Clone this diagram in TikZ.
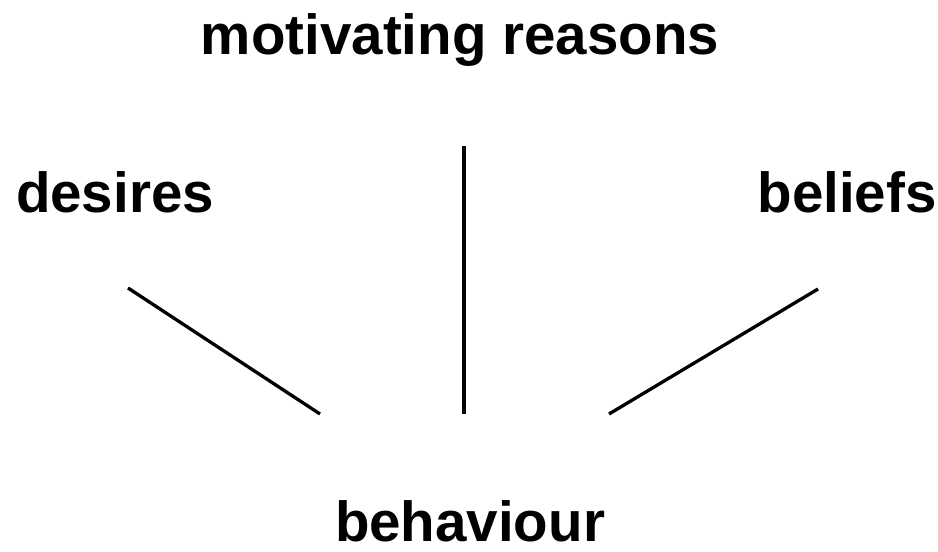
\documentclass[tikz,border=0pt]{standalone}
\usepackage{fontspec}
\setmainfont{Liberation Sans}

\begin{document}
\begin{tikzpicture}[x=1pt, y=-1pt, lbl/.style={font=\fontsize{56.5}{62}\selectfont\bfseries, inner sep=0pt, anchor=base}, link/.style={line width=3.3pt}]
	\useasboundingbox (0,0) rectangle (938,552);
	\node[lbl] (motive) at (460,54) {motivating reasons};
	\node[lbl] (desires) at (115,212) {desires};
	\node[lbl] (beliefs) at (847,212) {beliefs};
	\node[lbl] (behaviour) at (470,541) {behaviour};
	\coordinate (dtop) at (128,288);
	\coordinate (dbot) at (320,414);
	\coordinate (mtop) at (464,146);
	\coordinate (mbot) at (464,414);
	\coordinate (btop) at (818,289);
	\coordinate (bbot) at (609,414);
	\draw[link] (dtop) -- (dbot);
	\draw[link] (mtop) -- (mbot);
	\draw[link] (btop) -- (bbot);
\end{tikzpicture}
\end{document}
